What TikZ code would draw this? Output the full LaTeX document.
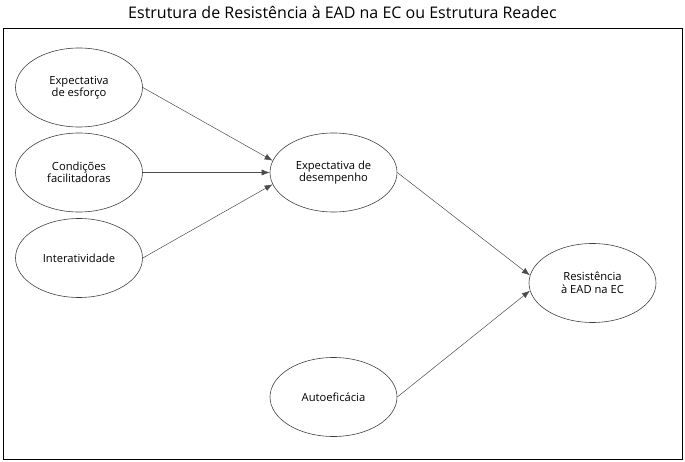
\documentclass[tikz,border=0pt]{standalone}
\usepackage{fontspec}
\setmainfont{Open Sans}
\usetikzlibrary{arrows.meta,shapes.geometric}
\begin{document}
\begin{tikzpicture}[x=1pt,y=-1pt,
  ell/.style={ellipse,draw=black!75,line width=0.6pt,minimum width=127pt,minimum height=79pt,inner sep=0pt,align=center,font=\fontsize{11.2}{12.5}\selectfont},
  arr/.style={draw=black!70,line width=0.5pt,-{Latex[length=8pt,width=6pt]}}]
\useasboundingbox (0,0) rectangle (685,462);
\draw[line width=0.9pt] (3,28) rectangle (682,459);
\node[font=\fontsize{16}{18}\selectfont] (title) at (342.5,12) {Estrutura de Resistência à EAD na EC ou Estrutura Readec};
\node[ell] (ee) at (79,87.5) {Expectativa\\de esforço};
\node[ell] (cf) at (79,172.5) {Condições\\facilitadoras};
\node[ell] (in) at (79,258) {Interatividade};
\node[ell] (ed) at (333.5,172.5) {Expectativa de\\desempenho};
\node[ell] (re) at (592.5,283) {Resistência\\à EAD na EC};
\node[ell] (au) at (333.5,397) {Autoeficácia};
\draw[arr] (ee.east) -- (ed.169);
\draw[arr] (cf.east) -- (ed.west);
\draw[arr] (in.east) -- (ed.191);
\draw[arr] (ed.east) -- (re.173);
\draw[arr] (au.east) -- (re.187);
\end{tikzpicture}
\end{document}
